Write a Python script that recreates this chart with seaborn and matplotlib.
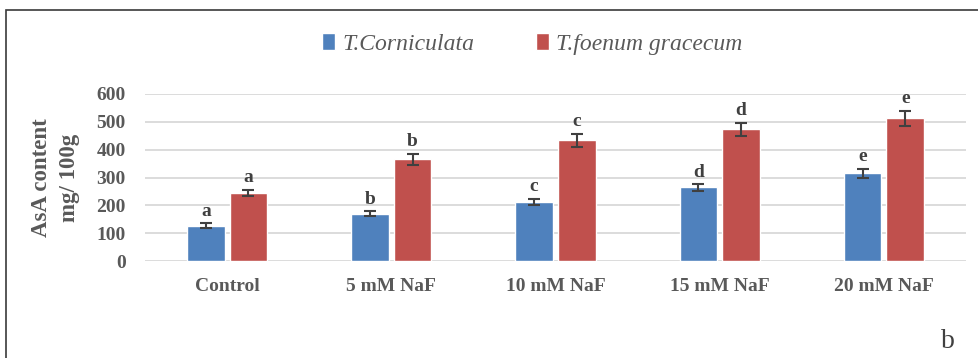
import matplotlib
matplotlib.use("Agg")
import matplotlib.pyplot as plt
import seaborn as sns
import pandas as pd
import numpy as np
from matplotlib.patches import Rectangle, Patch

categories = ["Control", "5 mM NaF", "10 mM NaF", "15 mM NaF", "20 mM NaF"]
series_names = ["T.Corniculata", "T.foenum gracecum"]
corniculata = [127, 170, 213, 265, 315]
foenum = [244, 366, 434, 473, 513]
corniculata_err = [9, 9, 11, 12, 17]
foenum_err = [12, 20, 23, 24, 27]
corniculata_letters = ["a", "b", "c", "d", "e"]
foenum_letters = ["a", "b", "c", "d", "e"]
yticks = [0, 100, 200, 300, 400, 500, 600]

df = pd.DataFrame({
    "cat": categories * 2,
    "series": [series_names[0]] * 5 + [series_names[1]] * 5,
    "val": corniculata + foenum,
})

W, H = 979, 358
dpi = 100
sns.set_style("white")
plt.rcParams['font.family'] = ['Liberation Serif', 'DejaVu Serif']
fig = plt.figure(figsize=(W / dpi, H / dpi), dpi=dpi)

# frame
fig.patches.append(Rectangle((6 / W, -0.05), 1.2, 1 - 10 / H + 0.05, transform=fig.transFigure,
                             fill=False, edgecolor="#3a3a3a", linewidth=1.2))

ax = fig.add_axes([145 / W, (H - 261) / H, (966 - 145) / W, (261 - 94) / H])
colors = ["#4F81BD", "#C0504D"]
sns.barplot(data=df, x="cat", y="val", hue="series", palette=colors, ax=ax,
            width=0.52, gap=0.12, legend=False, errorbar=None, saturation=1)

gray = "#595959"
errs = [corniculata_err, foenum_err]
letters = [corniculata_letters, foenum_letters]
vals = [corniculata, foenum]
bar_containers = list(ax.containers)
for si, cont in enumerate(bar_containers):
    for i, p in enumerate(cont.patches):
        xc = p.get_x() + p.get_width() / 2
        ax.errorbar(xc, vals[si][i], yerr=errs[si][i], fmt="none", ecolor="#404040",
                    elinewidth=1.5, capsize=4, capthick=1.5)
        ax.text(xc, vals[si][i] + errs[si][i] + 12, letters[si][i], ha="center", va="bottom",
                fontsize=14, fontweight="bold", color="#404040")

ax.set_ylim(0, 600)
ax.set_xlim(-0.5, 4.5)
ax.set_yticks(yticks)
ax.yaxis.grid(True, color="#d9d9d9", linewidth=1.3)
ax.set_axisbelow(True)
for s in ax.spines.values():
    s.set_visible(False)
ax.tick_params(axis="both", length=0, labelsize=14, labelcolor=gray)
ax.tick_params(axis="x", pad=12)
ax.tick_params(axis="y", pad=14)
for lab in ax.get_xticklabels() + ax.get_yticklabels():
    lab.set_fontweight("bold")
ax.set_xlabel("")
ax.set_ylabel("AsA content\nmg/ 100g", fontsize=16.5, fontweight="bold", color=gray,
              linespacing=1.4, labelpad=12)

handles = [Patch(facecolor=c, label=n) for c, n in zip(colors, series_names)]
leg = fig.legend(handles=handles, loc="center", bbox_to_anchor=(532 / W, 1 - 44 / H), ncol=2,
                 frameon=False, prop={"style": "italic", "size": 17}, handlelength=0.55,
                 handleheight=0.7, handletextpad=0.3, columnspacing=2.6)
for t in leg.get_texts():
    t.set_color(gray)

fig.text(948 / W, 1 - 342 / H, "b", fontsize=20, color="#404040", ha="center", va="center")

fig.savefig("out.png", dpi=dpi)
